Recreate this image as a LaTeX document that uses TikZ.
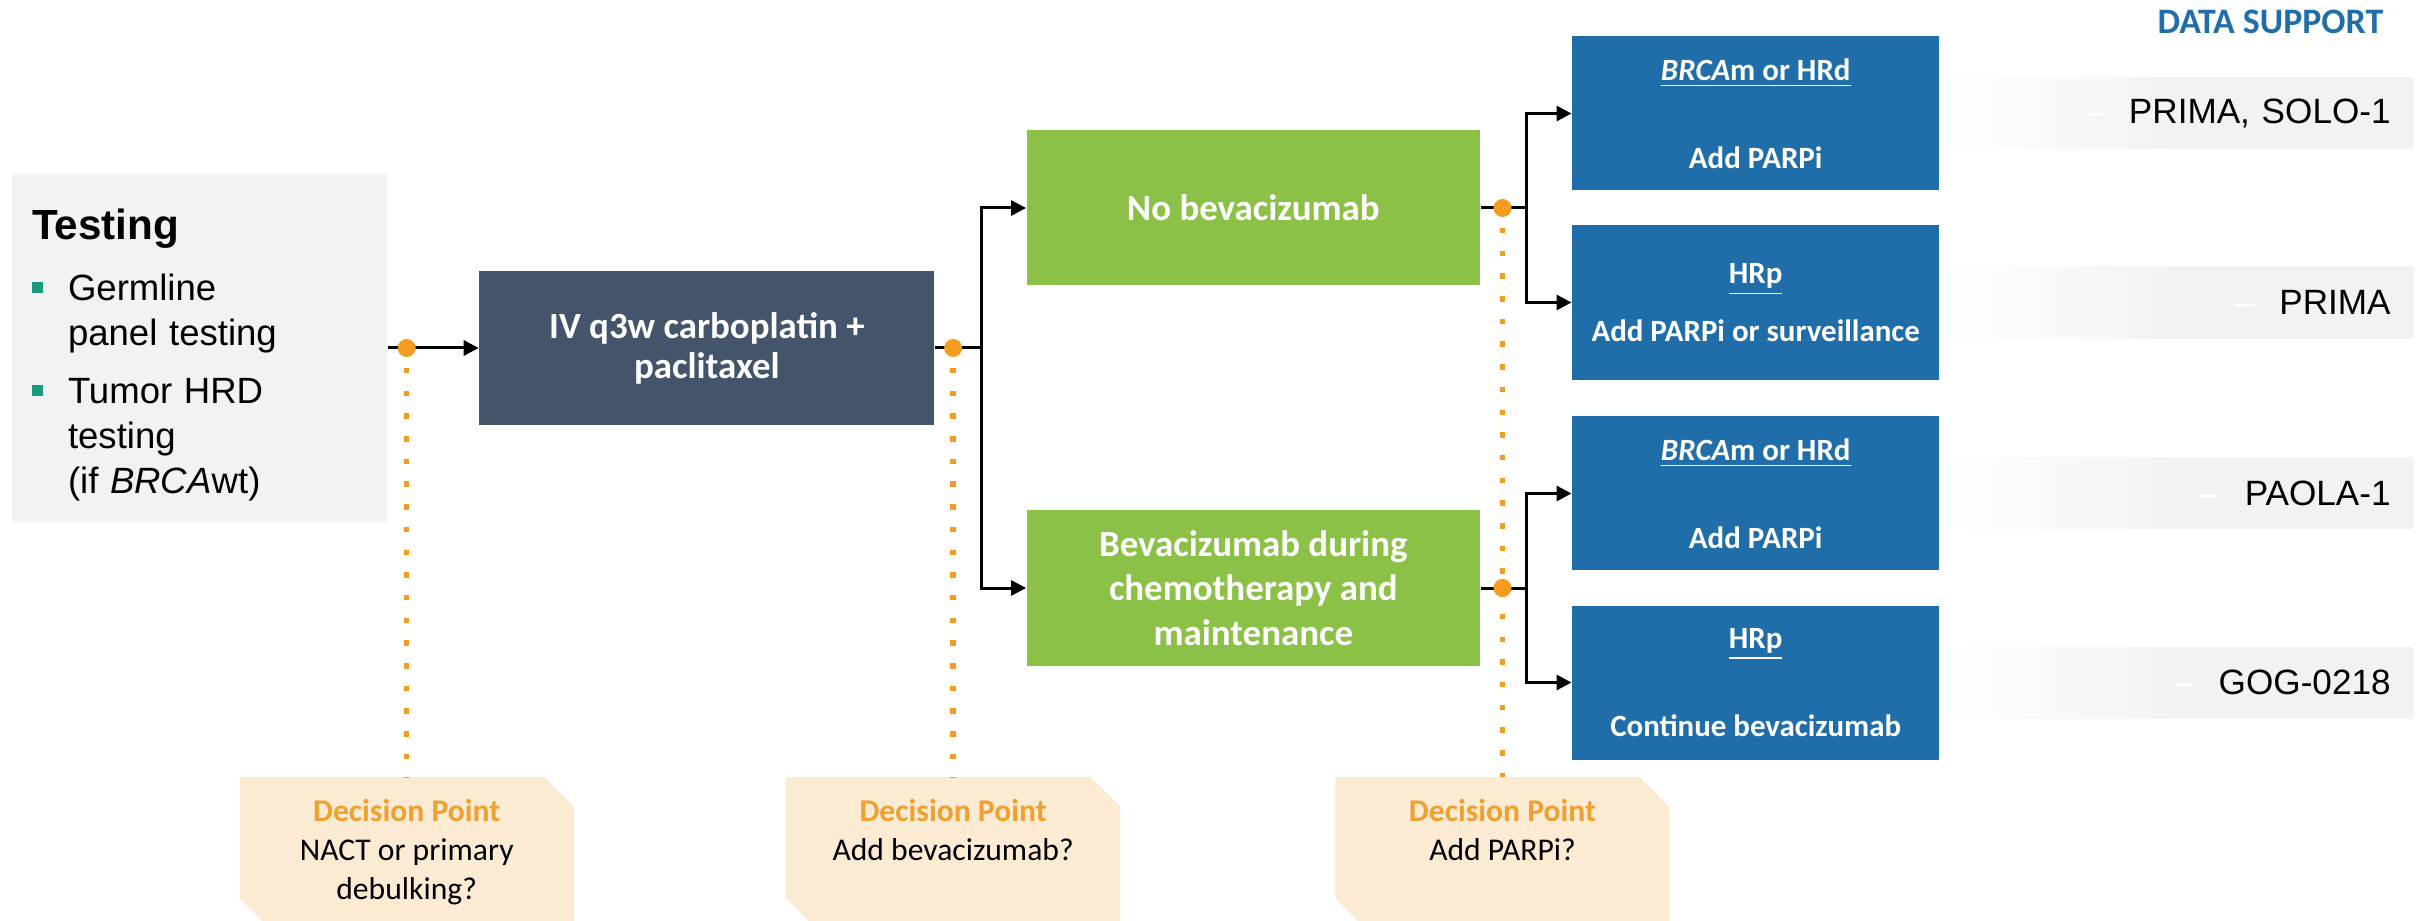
\documentclass[tikz,border=0pt]{standalone}
\usepackage{fontspec}
\setmainfont{Carlito}
\newfontfamily\arialfont{Liberation Sans}
\usetikzlibrary{positioning, arrows.meta}

\definecolor{chemonavy}{HTML}{44546A}
\definecolor{armgreen}{HTML}{8BC146}
\definecolor{parpblue}{HTML}{1F6EAA}
\definecolor{dotorange}{HTML}{F39C1F}
\definecolor{dpfill}{HTML}{FBEBD3}
\definecolor{dptitle}{HTML}{F0A030}
\definecolor{stripgray}{HTML}{F2F2F2}
\definecolor{bulletteal}{HTML}{1A9A7A}

\newcommand{\testitem}[1]{\noindent\makebox[0.36cm][l]{\textcolor{bulletteal}{\rule[0.07cm]{0.11cm}{0.11cm}}}\begin{tabular}[t]{@{}l@{}}#1\end{tabular}\par}

\begin{document}
\begin{tikzpicture}[
    node distance=0.91cm,
    testbox/.style={rectangle, fill=stripgray, inner xsep=0.2cm, inner ysep=0pt, text width=3.35cm, minimum height=3.48cm, align=left, font=\arialfont},
    chemobox/.style={rectangle, fill=chemonavy, text=white, minimum width=4.55cm, minimum height=1.54cm, inner sep=0pt, align=center, font=\bfseries\fontsize{10.5pt}{11.4pt}\selectfont},
    armbox/.style={rectangle, fill=armgreen, text=white, minimum width=4.53cm, minimum height=1.55cm, inner sep=0pt, align=center, font=\bfseries\fontsize{10.5pt}{12.66pt}\selectfont},
    parpbox/.style={rectangle, fill=parpblue, text=white, minimum width=3.67cm, minimum height=1.54cm, inner sep=0pt, align=center, font=\bfseries\fontsize{8.8pt}{10.5pt}\selectfont},
    datastrip/.style={rectangle, inner xsep=0.23cm, inner ysep=0pt, minimum height=0.71cm, text width=4.27cm, align=right, left color=white, right color=stripgray, middle color=stripgray, font=\arialfont\fontsize{10pt}{12pt}\selectfont},
    dpbox/.style={rectangle, minimum width=3.33cm, minimum height=1.5cm, inner sep=0pt, anchor=north},
    dptext/.style={inner sep=0pt, align=center, font=\fontsize{9pt}{11pt}\selectfont},
    arrow/.style={-{Triangle[length=0.15cm, width=0.15cm]}, line width=0.03cm},
    link/.style={line width=0.03cm},
    dotline/.style={dotorange, line width=0.055cm, dash pattern=on 0.055cm off 0.172cm, dash phase=0.027cm},
    ddot/.style={circle, fill=dotorange, inner sep=0pt, minimum size=0.18cm}
]
\useasboundingbox (0,0) rectangle (24.18,-9.21);

% Testing
\node[testbox] (testing) at (1.995,-3.48) {%
    {\fontsize{12pt}{14pt}\selectfont\bfseries\rule{0pt}{0.5cm}Testing}\par
    \fontsize{10.4pt}{12.8pt}\selectfont\vspace{4.6pt}
    \testitem{Germline\\panel testing}\vspace{2.7pt}
    \testitem{Tumor HRD\\testing\\(if \textit{BRCA}wt)}};

% Chemotherapy
\node[chemobox, right=of testing] (chemo) {IV q3w carboplatin +\\paclitaxel};

% Bevacizumab arms
\node[armbox, right=of chemo, yshift=1.40cm] (nobev) {No bevacizumab};
\node[armbox, right=of chemo, yshift=-2.40cm] (bev) {Bevacizumab during\\chemotherapy and\\maintenance};

% Biomarker groups
\node[parpbox, right=of nobev, yshift=0.945cm] (nobevhrd) {\underline{\textit{BRCA}m or HRd}\\[14.6pt]Add PARPi};
\node[parpbox, right=of nobev, yshift=-0.945cm] (nobevhrp) {\underline{HRp}\\[6pt]Add PARPi or surveillance};
\node[parpbox, right=of bev, yshift=0.945cm] (bevhrd) {\underline{\textit{BRCA}m or HRd}\\[14.6pt]Add PARPi};
\node[parpbox, right=of bev, yshift=-0.945cm] (bevhrp) {\underline{HRp}\\[14.6pt]Continue bevacizumab};

% Data support
\node[datastrip, right=0pt of nobevhrd] (trial1) {\textcolor{white}{–}\hspace{0.25cm}PRIMA, SOLO-1};
\node[datastrip, right=0pt of nobevhrp] (trial2) {\textcolor{white}{–}\hspace{0.25cm}PRIMA};
\node[datastrip, right=0pt of bevhrd] (trial3) {\textcolor{white}{–}\hspace{0.25cm}PAOLA-1};
\node[datastrip, right=0pt of bevhrp] (trial4) {\textcolor{white}{–}\hspace{0.25cm}GOG-0218};
\node[anchor=east, inner sep=0pt, text=parpblue, font=\bfseries\fontsize{10.2pt}{12pt}\selectfont] (datasupport) at (23.84,-0.22) {DATA SUPPORT};

% Decision points
\coordinate[right=0.19cm of testing.east] (c1);
\coordinate[right=0.18cm of chemo.east] (c2);
\coordinate[right=0.22cm of nobev.east] (c3);
\coordinate[right=0.22cm of bev.east] (c4);
\coordinate (dprow) at (0,-7.77);
\node[dpbox] (dp1) at (c1 |- dprow) {};
\node[dpbox] (dp2) at (c2 |- dprow) {};
\node[dpbox] (dp3) at (c3 |- dprow) {};
\foreach \d in {dp1,dp2,dp3}
    \fill[dpfill] (\d.north west) -- ([xshift=-0.3cm]\d.north east) -- ([yshift=-0.3cm]\d.north east)
        -- (\d.south east) -- ([xshift=0.3cm]\d.south west) -- ([yshift=0.3cm]\d.south west) -- cycle;
\node[dptext, below=0.22cm of dp1.north] (dptext1) {\textcolor{dptitle}{\bfseries Decision Point}\\NACT or primary\\debulking?};
\node[dptext, below=0.22cm of dp2.north] (dptext2) {\textcolor{dptitle}{\bfseries Decision Point}\\Add bevacizumab?};
\node[dptext, below=0.22cm of dp3.north] (dptext3) {\textcolor{dptitle}{\bfseries Decision Point}\\Add PARPi?};

% Arrows
\draw[arrow] (testing) -- (chemo);
\draw[link] (chemo.east) -- ++(0.46,0) coordinate (j1);
\draw[arrow] (j1) |- (nobev);
\draw[arrow] (j1) |- (bev);
\draw[link] (nobev.east) -- ++(0.46,0) coordinate (j2);
\draw[arrow] (j2) |- (nobevhrd);
\draw[arrow] (j2) |- (nobevhrp);
\draw[link] (bev.east) -- ++(0.46,0) coordinate (j3);
\draw[arrow] (j3) |- (bevhrd);
\draw[arrow] (j3) |- (bevhrp);

% Dotted guides
\draw[dotline] (c1) -- (dp1.north);
\draw[dotline] (c2) -- (dp2.north);
\draw[dotline] (c3) -- (dp3.north);

\node[ddot] (dot1) at (c1) {};
\node[ddot] (dot2) at (c2) {};
\node[ddot] (dot3) at (c3) {};
\node[ddot] (dot4) at (c4) {};

\end{tikzpicture}
\end{document}
